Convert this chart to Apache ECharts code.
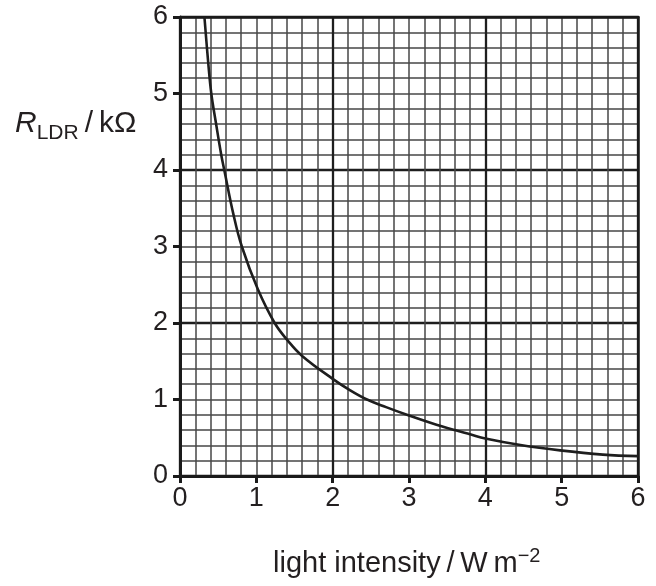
<!DOCTYPE html>
<html><head><meta charset="utf-8">
<script src="https://cdn.jsdelivr.net/npm/echarts@6/dist/echarts.min.js"></script>
<style>html,body{margin:0;padding:0;background:#fff}#c{width:656px;height:586px}</style>
</head><body><div id="c"></div>
<script>
// light intensity / W m^-2
const intensity = [0.32, 0.37, 0.41, 0.47, 0.54, 0.58, 0.70, 0.81, 1.02, 1.24, 1.42, 1.60, 2.00, 2.23, 2.45, 2.70, 3.00, 3.30, 3.60, 3.80, 4.00, 4.46, 4.98, 5.54, 6.00];
// R_LDR / kOhm
const resistance = [6.00, 5.40, 5.00, 4.62, 4.20, 4.00, 3.42, 3.00, 2.44, 2.00, 1.76, 1.57, 1.27, 1.12, 1.00, 0.90, 0.79, 0.69, 0.60, 0.545, 0.49, 0.405, 0.335, 0.28, 0.26];
const xTickLabels = ['0', '1', '2', '3', '4', '5', '6'];
const yTickLabels = ['0', '1', '2', '3', '4', '5', '6'];
const xName = 'light intensity\u2009/\u2009W\u2009m';
const xNameSup = '\u22122';
const yNameMain = 'R';
const yNameSub = 'LDR';
const yNameUnit = '\u2009/\u2009k\u03A9';

const FONT = 'Liberation Sans, Arial, sans-serif';
const TXT = '#231f20';
const minorStyle = { color: '#474747', width: 1.5 };
const majorStyle = { color: '#1e1e1e', width: 2.3 };

const chart = echarts.init(document.getElementById('c'), null, { renderer: 'canvas' });
const points = intensity.map((x, i) => [x, resistance[i]]);

function mainAxis(labels, pos) {
  return {
    type: 'value', min: 0, max: 6, interval: 1, position: pos,
    axisLine: { show: true, onZero: false, lineStyle: { color: '#1a1a1a', width: 3 } },
    axisTick: { show: true, length: 7, lineStyle: { color: '#1a1a1a', width: 3 } },
    axisLabel: {
      show: true, fontSize: 27, color: TXT, fontFamily: FONT, margin: pos === 'bottom' ? 9 : 12,
      formatter: v => labels[Math.round(v)]
    },
    splitLine: { show: true, lineStyle: minorStyle },
    minorTick: { show: false, splitNumber: 5 },
    minorSplitLine: { show: true, lineStyle: minorStyle }
  };
}
function majorAxis(pos) {
  return {
    type: 'value', min: 0, max: 6, interval: 2, position: pos,
    axisLine: { show: true, onZero: false, lineStyle: { color: '#1a1a1a', width: 2.5 } },
    axisTick: { show: false }, axisLabel: { show: false },
    splitLine: { show: true, lineStyle: majorStyle }
  };
}

chart.setOption({
  animation: false,
  backgroundColor: '#fff',
  grid: { left: 180, right: 18, top: 17, bottom: 110, containLabel: false },
  xAxis: [mainAxis(xTickLabels, 'bottom'), majorAxis('top')],
  yAxis: [mainAxis(yTickLabels, 'left'), majorAxis('right')],
  series: [{
    type: 'line', xAxisIndex: 0, yAxisIndex: 0, data: points,
    smooth: 0.4, showSymbol: false, clip: true,
    lineStyle: { color: '#1e1e1e', width: 2.6 }, z: 5
  }],
  graphic: [
    {
      type: 'text', left: 15, top: 109,
      style: {
        text: '{r|' + yNameMain + '}{s|' + yNameSub + '}{n|' + yNameUnit + '}',
        fill: TXT, font: '30px ' + FONT,
        rich: {
          r: { fontSize: 30, fontStyle: 'italic', lineHeight: 40, verticalAlign: 'middle', fontFamily: FONT, fill: TXT },
          s: { fontSize: 21, lineHeight: 16, verticalAlign: 'bottom', fontFamily: FONT, fill: TXT },
          n: { fontSize: 30, lineHeight: 40, verticalAlign: 'middle', fontFamily: FONT, fill: TXT }
        }
      }
    },
    {
      type: 'text', left: 273, top: 546,
      style: {
        text: '{a|' + xName + '}{b|' + xNameSup + '}',
        fill: TXT, font: '29px ' + FONT,
        rich: {
          a: { fontSize: 29, lineHeight: 36, verticalAlign: 'middle', fontFamily: FONT, fill: TXT },
          b: { fontSize: 20, lineHeight: 16, verticalAlign: 'top', fontFamily: FONT, fill: TXT }
        }
      }
    }
  ]
});
</script></body></html>
